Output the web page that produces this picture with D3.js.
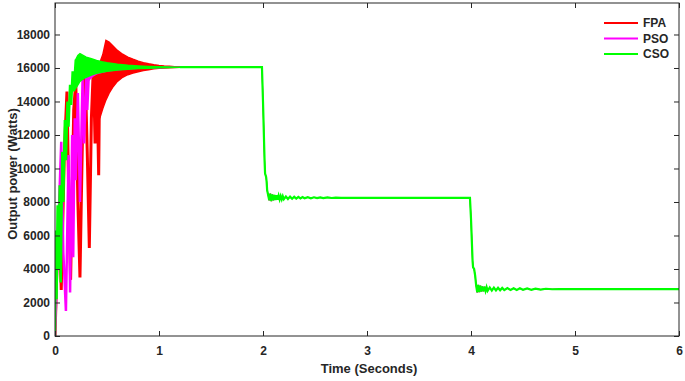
<!DOCTYPE html>
<html>
<head>
<meta charset="utf-8">
<script src="https://cdn.jsdelivr.net/npm/d3@7"></script>
<style>
  html, body { margin: 0; padding: 0; background: #fff; }
  svg { display: block; }
  text { font-family: "Liberation Sans", Arial, sans-serif; font-weight: bold; fill: #262626; }
</style>
</head>
<body>
<svg id="chart" width="685" height="381"></svg>
<script>
// ---------------- DATA ----------------
const seriesNames = ["FPA", "PSO", "CSO"];
const seriesColors = ["#ff0000", "#ff00ff", "#00ff00"];
const xTicks = [0, 1, 2, 3, 4, 5, 6];
const yTicks = [0, 2000, 4000, 6000, 8000, 10000, 12000, 14000, 16000, 18000];

// Early (start-up) oscillations: [time s, power W]
const fpaStart = [[0,0],[0.02,4500],[0.04,7500],[0.06,2750],[0.09,11000],[0.115,14600],[0.13,9000],[0.15,3350],[0.18,13500],[0.2,15200],[0.22,8000],[0.24,3500],[0.27,14000],[0.29,15800],[0.31,11000],[0.33,5250],[0.35,13000],[0.37,16200],[0.385,11500],[0.4,16400],[0.42,9600],[0.43,16300]];
const psoStart = [[0,0],[0.02,4000],[0.04,8000],[0.06,11600],[0.08,5000],[0.105,1500],[0.13,10800],[0.145,2600],[0.165,12000],[0.175,4700],[0.19,13000],[0.2,9300],[0.22,14500],[0.24,8000],[0.265,15300],[0.28,11500],[0.3,15600],[0.31,13500],[0.33,16300]];
const csoStart = [[0,0],[0.005,6300],[0.015,2200],[0.025,7800],[0.035,4000],[0.045,9000],[0.055,3200],[0.07,11000],[0.08,8000],[0.095,12900],[0.105,10500],[0.12,14000],[0.13,12500],[0.145,15000],[0.155,13800],[0.17,15800],[0.18,14600],[0.2,16500]];

// Converging oscillation envelopes: time, upper, lower
const fpaBandT  = [0.43,0.46,0.49,0.52,0.56,0.6,0.65,0.7,0.75,0.8,0.85,0.9,0.95,1.0,1.05,1.1,1.15,1.2];
const fpaBandHi = [16300,16800,17650,17550,17300,17050,16820,16650,16520,16400,16320,16250,16190,16150,16120,16100,16080,16070];
const fpaBandLo = [13000,13600,14100,14500,14900,15200,15450,15600,15700,15780,15850,15900,15950,15980,16000,16020,16030,16040];
const psoBandT  = [0.33,0.36,0.4,0.45,0.5,0.6,0.7,0.8,0.9,1.0,1.1,1.2];
const psoBandHi = [16300,16250,16200,16150,16120,16100,16080,16070,16060,16055,16050,16050];
const psoBandLo = [15300,15500,15650,15750,15820,15900,15950,15980,16000,16020,16040,16045];
const csoBandT  = [0.2,0.22,0.24,0.27,0.3,0.35,0.4,0.45,0.5,0.6,0.7,0.8,0.9,1.0,1.1,1.2];
const csoBandHi = [16500,16750,16850,16750,16650,16550,16450,16380,16320,16220,16160,16120,16090,16070,16060,16050];
const csoBandLo = [14800,15000,15200,15350,15450,15580,15680,15750,15800,15880,15930,15970,15990,16010,16030,16045];

// Common trajectory after convergence (load steps at 2 s and 4 s)
const commonT = [1.2,1.99,2.0,2.015,2.02,2.03,2.035,2.04,2.05,2.06,2.07,2.08,2.09,2.10,2.11,2.12,2.13,2.14,2.15,2.16,2.17,2.18,2.19,2.2,2.22,2.24,2.26,2.28,2.30,2.32,2.34,2.36,2.38,2.40,2.43,2.46,2.49,2.52,2.55,2.58,2.62,2.66,2.70,2.75,3.99,4.0,4.015,4.02,4.03,4.04,4.05,4.06,4.07,4.08,4.09,4.10,4.11,4.12,4.13,4.14,4.15,4.16,4.18,4.20,4.22,4.24,4.26,4.28,4.30,4.32,4.35,4.38,4.41,4.44,4.47,4.50,4.54,4.58,4.62,4.67,4.72,4.78,4.85,6.0];
const commonP = [16050,16050,14000,10500,9700,9500,9200,8700,8400,8100,8500,8050,8450,8100,8420,8120,8400,8140,8380,8150,8360,8160,8350,8170,8330,8180,8320,8190,8310,8200,8300,8210,8290,8220,8285,8225,8280,8230,8275,8235,8270,8240,8265,8250,8250,7000,4500,4100,4000,3600,3000,2600,3050,2620,3000,2650,2960,2670,2940,2690,2920,2700,2900,2710,2890,2720,2880,2730,2870,2740,2860,2745,2850,2750,2845,2755,2840,2760,2830,2770,2820,2790,2800,2800];

// ---------------- CHART ----------------
const W = 685, H = 381;
const m = { left: 55, top: 3, right: 6, bottom: 45 };
const svg = d3.select("#chart");
const x = d3.scaleLinear().domain([0, 6]).range([m.left, W - m.right]);
const y = d3.scaleLinear().domain([0, 19880]).range([H - m.bottom, m.top]);

svg.append("defs").append("clipPath").attr("id", "clip")
  .append("rect").attr("x", x(0)).attr("y", y(19880))
  .attr("width", x(6) - x(0)).attr("height", y(0) - y(19880));

const plot = svg.append("g").attr("clip-path", "url(#clip)");

const line = d3.line().x(d => x(d[0])).y(d => y(d[1]));
const area = d3.area().x(d => x(d.t)).y0(d => y(d.lo)).y1(d => y(d.hi));

const series = [
  { start: fpaStart, bT: fpaBandT, bH: fpaBandHi, bL: fpaBandLo },
  { start: psoStart, bT: psoBandT, bH: psoBandHi, bL: psoBandLo },
  { start: csoStart, bT: csoBandT, bH: csoBandHi, bL: csoBandLo }
];
const common = commonT.map((t, i) => [t, commonP[i]]);

series.forEach((s, i) => {
  const c = seriesColors[i];
  const top = i === series.length - 1;
  const g = plot.append("g");
  g.append("path").attr("d", line(s.start))
    .attr("fill", "none").attr("stroke", c).attr("stroke-width", i === 0 ? 3 : 2.5).attr("stroke-linejoin", "miter");
  const band = s.bT.map((t, k) => ({ t, hi: s.bH[k], lo: s.bL[k] }));
  g.append("path").attr("d", area(band))
    .attr("fill", c).attr("stroke", c).attr("stroke-width", 1.5);
  g.append("path").attr("d", line(common))
    .attr("fill", "none").attr("stroke", c).attr("stroke-width", top ? 2.2 : 1);
});

// Axes (inward ticks, box)
const axisColor = "#262626";
const yAxis = svg.append("g").attr("transform", `translate(${x(0)},0)`)
  .call(d3.axisLeft(y).tickValues(yTicks).tickSizeInner(-5).tickSizeOuter(0).tickPadding(5).tickFormat(d3.format("d")));
const yAxisR = svg.append("g").attr("transform", `translate(${x(6)},0)`)
  .call(d3.axisRight(y).tickValues(yTicks).tickSizeInner(-5).tickSizeOuter(0).tickFormat(""));
const xAxis = svg.append("g").attr("transform", `translate(0,${y(0)})`)
  .call(d3.axisBottom(x).tickValues(xTicks).tickSizeInner(-5).tickSizeOuter(0).tickPadding(10).tickFormat(d3.format("d")));
const xAxisT = svg.append("g").attr("transform", `translate(0,${y(19880)})`)
  .call(d3.axisTop(x).tickValues(xTicks).tickSizeInner(-5).tickSizeOuter(0).tickFormat(""));
[yAxis, yAxisR, xAxis, xAxisT].forEach(a => {
  a.select(".domain").remove();
  a.selectAll("line").attr("stroke", axisColor);
  a.selectAll("text").attr("font-size", 12).attr("font-family", "Liberation Sans, Arial, sans-serif")
    .attr("font-weight", "bold").attr("fill", axisColor);
});
svg.append("rect").attr("x", x(0)).attr("y", y(19880))
  .attr("width", x(6) - x(0)).attr("height", y(0) - y(19880))
  .attr("fill", "none").attr("stroke", axisColor).attr("stroke-width", 1);

// Axis titles
svg.append("text").attr("x", 369).attr("y", 373).attr("text-anchor", "middle")
  .attr("font-size", 13).text("Time (Seconds)");
svg.append("text").attr("transform", "translate(12,174) rotate(-90)")
  .attr("text-anchor", "middle").attr("dy", "0.35em")
  .attr("font-size", 13).text("Output power (Watts)");

// Legend
const leg = svg.append("g");
seriesNames.forEach((n, i) => {
  const ly = 23 + i * 15.5;
  leg.append("line").attr("x1", 604).attr("x2", 638).attr("y1", ly).attr("y2", ly)
    .attr("stroke", seriesColors[i]).attr("stroke-width", 2);
  leg.append("text").attr("x", 643).attr("y", ly).attr("dy", "0.35em")
    .attr("font-size", 12).text(n);
});
</script>
</body>
</html>
